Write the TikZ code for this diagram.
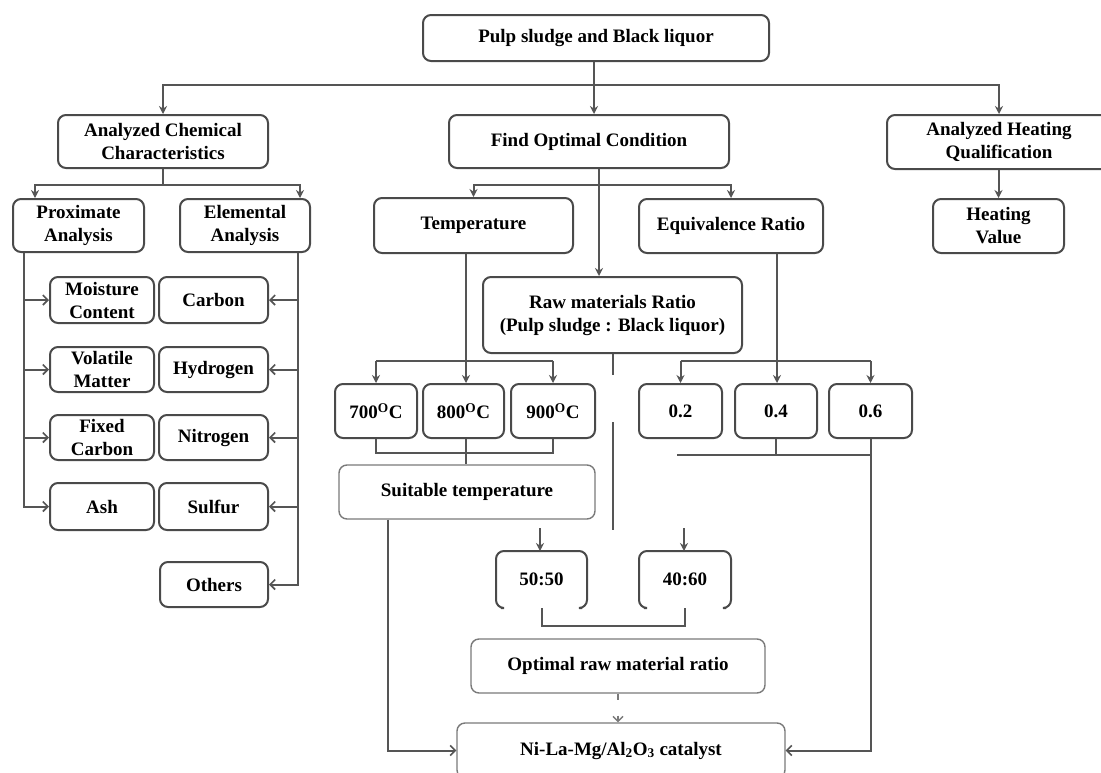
\documentclass[tikz,border=0pt]{standalone}
\usepackage{fontspec}
\setmainfont{Liberation Serif}
\usetikzlibrary{arrows.meta}

\definecolor{edge}{HTML}{555555}
\definecolor{frame}{HTML}{4A4A4A}
\definecolor{softframe}{HTML}{7A7A7A}

\tikzset{
  box/.style={draw=frame, line width=2pt, rounded corners=8pt, align=center,
    inner sep=0pt, text=black, font=\fontsize{19}{23}\selectfont\bfseries},
  softbox/.style={draw=softframe, line width=1.4pt},
  link/.style={draw=edge, line width=2pt},
  arr/.style={link, -{Stealth[length=8pt,width=8pt]}},
  barb/.style={link, -{Straight Barb[length=5pt,width=10pt,line width=1.6pt]}},
}

% box by its corners: [options]{name}{x1}{y1}{x2}{y2}{text}
\newcommand\boxat[7][]{%
  \node[box,#1,minimum width={(#5-#3)*1pt},minimum height={(#6-#4)*1pt}]
    (#2) at ({(#3+#5)/2},{(#4+#6)/2}) {#7};}
\newcommand\degC{\textsuperscript{O}C}

\begin{document}
\begin{tikzpicture}[x=1pt,y=-1pt]
\useasboundingbox (0,0) rectangle (1101,772);
\clip (0,0) rectangle (1101,772);
\fill[white] (0,0) rectangle (1101,772);

% ---- top levels ----
\boxat{src}{423}{15}{769}{61}{Pulp sludge and Black liquor}
\boxat{acc}{58}{115}{268}{168}{Analyzed Chemical\\Characteristics}
\boxat{opt}{449}{115}{729}{168}{Find Optimal Condition}
\boxat{ahq}{887}{115}{1111}{169}{Analyzed Heating\\Qualification}

\boxat{prox}{13}{199}{144}{252}{Proximate\\Analysis}
\boxat{elem}{180}{199}{310}{252}{Elemental\\Analysis}
\boxat{temp}{374}{198}{573}{253}{Temperature}
\boxat{eqr}{639}{199}{823}{253}{Equivalence Ratio}
\boxat{hv}{933}{199}{1064}{253}{Heating\\Value}
\boxat{raw}{483}{277}{742}{353}{Raw materials Ratio\\(Pulp sludge : Black liquor)}

% ---- analyses ----
\boxat{moist}{50}{277}{154}{323}{Moisture\\Content}
\boxat{carb}{159}{277}{268}{323}{Carbon}
\boxat{vol}{50}{347}{154}{392}{Volatile\\Matter}
\boxat{hyd}{159}{347}{268}{392}{Hydrogen}
\boxat{fix}{50}{415}{154}{460}{Fixed\\Carbon}
\boxat{nit}{159}{415}{268}{460}{Nitrogen}
\boxat{ash}{50}{483}{154}{530}{Ash}
\boxat{sul}{159}{483}{268}{530}{Sulfur}
\boxat{oth}{160}{562}{268}{607}{Others}

% ---- conditions ----
\boxat{t7}{335}{384}{417}{438}{700\degC}
\boxat{t8}{423}{384}{504}{438}{800\degC}
\boxat{t9}{511}{384}{595}{438}{900\degC}
\boxat{e2}{639}{384}{722}{438}{0.2}
\boxat{e4}{735}{384}{817}{438}{0.4}
\boxat{e6}{829}{384}{912}{438}{0.6}

\boxat[softbox]{suit}{339}{465}{595}{519}{Suitable temperature}
\boxat[draw=none]{r55}{497}{552}{586}{607}{50:50}
\boxat[draw=none]{r46}{640}{552}{730}{607}{40:60}
\boxat[softbox]{best}{471}{639}{765}{693}{Optimal raw material ratio}
\boxat[softbox]{cat}{457}{723}{785}{778}{Ni-La-Mg/Al\textsubscript{2}O\textsubscript{3} catalyst}

% ratio boxes drawn open at the bottom
\foreach \r in {r55,r46}{
  \draw[draw=frame, line width=2pt, rounded corners=8pt]
    ([xshift=5pt]\r.south west) -- (\r.south west) -- (\r.north west)
    -- (\r.north east) -- (\r.south east) -- ([xshift=-5pt]\r.south east);
}

% ---- connectors: first level ----
\coordinate (rootbar) at (594,85);
\draw[link] (src.south -| rootbar) -- (rootbar);
\draw[arr] (rootbar) -| (acc.north);
\draw[arr] (rootbar) -| (ahq.north);
\draw[arr] (rootbar) -- (rootbar |- opt.north);

% chemical characteristics
\coordinate (accbar) at (163,185);
\coordinate (pa) at (35,185);
\coordinate (ea) at (300,185);
\draw[link] (acc.south) -- (accbar);
\draw[arr] (accbar) -- (pa) -- (pa |- prox.north);
\draw[arr] (accbar) -- (ea) -- (ea |- elem.north);

\coordinate (lv) at (24,0);
\draw[barb] (prox.south -| lv) |- (ash.west);
\draw[barb] (lv |- moist.west) -- (moist.west);
\draw[barb] (lv |- vol.west) -- (vol.west);
\draw[barb] (lv |- fix.west) -- (fix.west);

\coordinate (rv) at (298,0);
\draw[barb] (elem.south -| rv) |- (oth.east);
\draw[barb] (rv |- carb.east) -- (carb.east);
\draw[barb] (rv |- hyd.east) -- (hyd.east);
\draw[barb] (rv |- nit.east) -- (nit.east);
\draw[barb] (rv |- sul.east) -- (sul.east);

% optimal condition
\coordinate (ov) at (599,185);
\draw[arr] (opt.south -| ov) -- (ov |- raw.north);
\draw[arr] (ov) -| (temp.north);
\draw[arr] (ov) -| (eqr.north);

% heating
\draw[arr] (ahq.south -| hv.north) -- (hv.north);

% temperature branch
\coordinate (tbar) at (466,361);
\draw[arr] (temp.south -| tbar) -- (tbar |- t8.north);
\draw[link] (tbar -| t7.north) -- (tbar -| t9.north);
\draw[arr] (tbar -| t7.north) -- (t7.north);
\draw[arr] (tbar -| t9.north) -- (t9.north);

% equivalence ratio branch
\coordinate (ebar) at (777,361);
\draw[arr] (eqr.south -| ebar) -- (ebar |- e4.north);
\draw[link] (ebar -| e2.north) -- (ebar -| e6.north);
\draw[arr] (ebar -| e2.north) -- (e2.north);
\draw[arr] (ebar -| e6.north) -- (e6.north);

% temperatures gathered
\coordinate (tlow) at (466,453);
\draw[link] (t7.south) |- (tlow);
\draw[link] (t9.south) |- (tlow);
\draw[link] (t8.south -| tlow) -- (tlow |- suit.north);

% ratios gathered
\coordinate (elow) at (677,455);
\draw[link] (elow) -- (elow -| e6.south);
\draw[link] (e4.south) -- (e4.south |- elow);
\draw[barb] (e6.south) |- (cat.east);

% suitable temperature to catalyst
\coordinate (sv) at (388,0);
\draw[barb] (suit.south -| sv) |- (cat.west);

% raw material ratio line
\coordinate (rawtop) at (613,375);
\coordinate (rawgap) at (613,422);
\coordinate (rawlow) at (613,530);
\draw[link] (raw.south -| rawtop) -- (rawtop);
\draw[link] (rawgap) -- (rawlow);

\coordinate (a55) at (540,528);
\coordinate (a46) at (684,528);
\draw[arr] (a55) -- (a55 |- r55.north);
\draw[arr] (a46) -- (a46 |- r46.north);

\coordinate (rlow) at (612,626);
\draw[link] (r55.south) -- (r55.south |- rlow) -- (r46.south |- rlow) -- (r46.south);

% optimal ratio to catalyst
\draw[draw=softframe, line width=1.6pt, dash pattern=on 6pt off 16pt on 10pt,
  -{Straight Barb[length=5pt,width=10pt,line width=1.4pt]}]
  (best.south) -- (best.south |- cat.north);
\end{tikzpicture}
\end{document}
